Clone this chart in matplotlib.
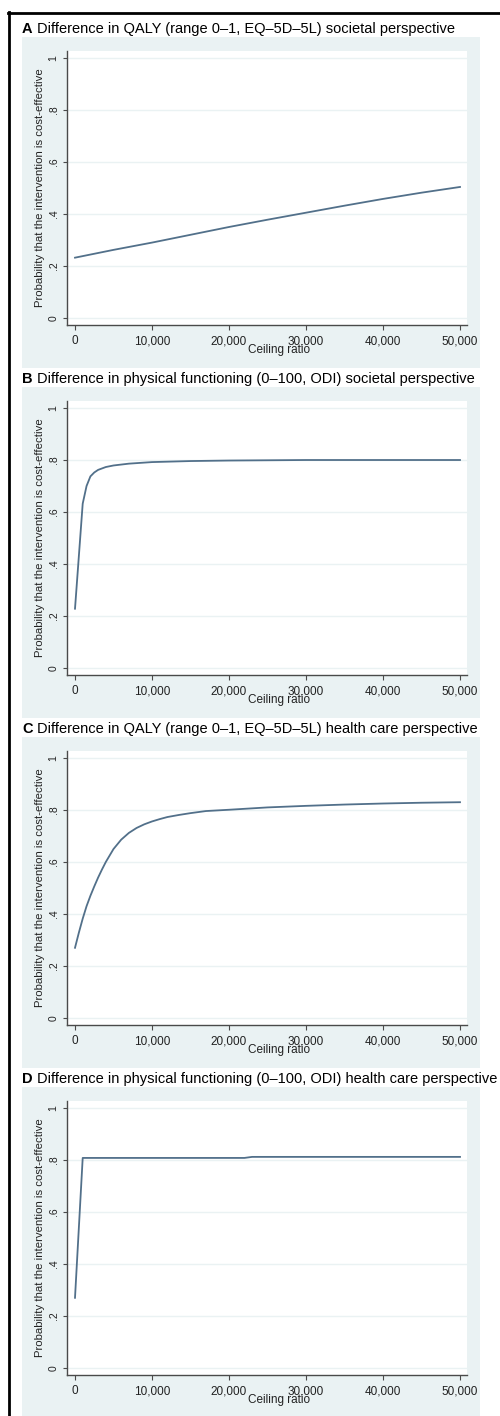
import numpy as np
import matplotlib
matplotlib.use('Agg')
import matplotlib.pyplot as plt
from matplotlib.patches import Rectangle
from matplotlib.ticker import FuncFormatter

plt.rcParams['font.family'] = ['Liberation Sans', 'DejaVu Sans']

# panel labels and titles
letters = ['A', 'B', 'C', 'D']
titles = [
    'Difference in QALY (range 0\u20131, EQ\u20135D\u20135L) societal perspective',
    'Difference in physical functioning (0\u2013100, ODI) societal perspective',
    'Difference in QALY (range 0\u20131, EQ\u20135D\u20135L) health care perspective',
    'Difference in physical functioning (0\u2013100, ODI) health care perspective',
]

# acceptability curves
ceil_a = [0, 5000, 10000, 15000, 20000, 25000, 30000, 35000, 40000, 45000, 50000]
prob_a = [0.232, 0.262, 0.290, 0.320, 0.350, 0.378, 0.405, 0.432, 0.458, 0.482, 0.504]

ceil_b = [0, 1000, 1500, 2000, 2500, 3000, 4000, 5000, 7000, 10000, 15000, 20000,
          30000, 40000, 50000]
prob_b = [0.228, 0.632, 0.700, 0.737, 0.752, 0.762, 0.773, 0.779, 0.786, 0.792, 0.796,
          0.798, 0.800, 0.800, 0.800]

ceil_c = [0, 500, 1000, 1500, 2000, 2500, 3000, 3500, 4000, 5000, 6000, 7000, 8000,
          9000, 10000, 11000, 12000, 13500, 15000, 17000, 20000, 25000, 30000, 35000,
          40000, 45000, 50000]
prob_c = [0.270, 0.328, 0.382, 0.430, 0.470, 0.506, 0.540, 0.571, 0.600, 0.650, 0.686,
          0.712, 0.731, 0.745, 0.756, 0.765, 0.773, 0.781, 0.788, 0.796, 0.801, 0.810,
          0.816, 0.821, 0.825, 0.828, 0.830]

ceil_d = [0, 1000, 22000, 23000, 50000]
prob_d = [0.270, 0.808, 0.808, 0.812, 0.812]

curves = [(ceil_a, prob_a), (ceil_b, prob_b), (ceil_c, prob_c), (ceil_d, prob_d)]

xticks = [0, 10000, 20000, 30000, 40000, 50000]
yticks = [0, 0.2, 0.4, 0.6, 0.8, 1]
ytick_labels = ['0', '.2', '.4', '.6', '.8', '1']

W, H = 500, 1416
fig = plt.figure(figsize=(W / 100, H / 100), dpi=100)
fig.patch.set_facecolor('white')


def fx(x):
    return x / W


def fy(y):
    return 1 - y / H


bg = '#eaf2f3'
line_col = '#52708a'
axis_col = '#4a4a4a'

for i in range(4):
    o = 350 * i
    # light panel background
    fig.add_artist(Rectangle((fx(22), fy(368 + o)), fx(458), (331) / H,
                             transform=fig.transFigure, facecolor=bg,
                             edgecolor='none', zorder=-2))
    # panel title
    fig.text(fx(22), fy(29 + o), letters[i], fontsize=10.5, fontweight='bold',
             ha='left', va='center')
    fig.text(fx(37), fy(29 + o), titles[i], fontsize=10.5, ha='left', va='center')

    ax = fig.add_axes([fx(67), fy(325 + o), fx(400), (325 - 51) / H])
    ax.set_facecolor('white')
    xs, ys = curves[i]
    ax.plot(xs, ys, color=line_col, lw=1.3)

    ax.set_xlim(-1039, 50909)
    ax.set_ylim(-0.027, 1.027)
    ax.set_xticks(xticks)
    ax.xaxis.set_major_formatter(FuncFormatter(lambda v, p: '{:,.0f}'.format(v)))
    ax.set_yticks(yticks)
    ax.set_yticklabels(ytick_labels)
    ax.yaxis.grid(True, color=bg, lw=1.0)
    ax.set_axisbelow(True)

    for s in ['top', 'right']:
        ax.spines[s].set_visible(False)
    for s in ['left', 'bottom']:
        ax.spines[s].set_color(axis_col)
        ax.spines[s].set_linewidth(1.0)

    ax.tick_params(axis='x', length=3.5, width=0.8, color=axis_col, pad=4,
                   labelsize=8.5, labelcolor='#222222')
    ax.tick_params(axis='y', length=3, width=0.8, color=axis_col, pad=3,
                   labelsize=7.5, labelcolor='#222222', labelrotation=90)
    for lab in ax.get_yticklabels():
        lab.set_va('center')

    fig.text(fx(279), fy(350 + o), 'Ceiling ratio', fontsize=8.5, ha='center',
             va='center', color='#222222')
    fig.text(fx(40), fy(188 + o), 'Probability that the intervention is cost-effective',
             fontsize=8.2, rotation=90, ha='center', va='center', color='#222222')

# outer frame, open to the right and bottom
fig.add_artist(plt.Line2D([fx(9), fx(9)], [fy(12), fy(H + 5)], color='black',
                          lw=2, transform=fig.transFigure))
fig.add_artist(plt.Line2D([fx(8), fx(W + 5)], [fy(13), fy(13)], color='black',
                          lw=2, transform=fig.transFigure))

fig.savefig('out.png', dpi=100)
